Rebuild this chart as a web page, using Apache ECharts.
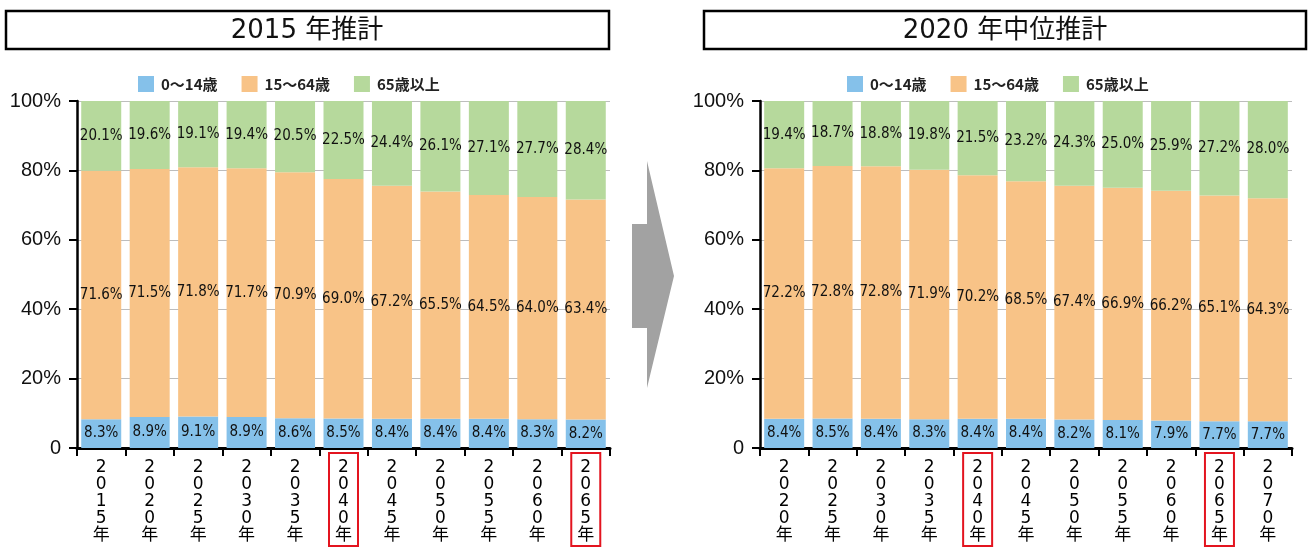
<!DOCTYPE html>
<html>
<head>
<meta charset="utf-8">
<script src="https://cdn.jsdelivr.net/npm/echarts@6/dist/echarts.min.js"></script>
<style>
html,body{margin:0;padding:0;background:#fff;}
#main{width:1308px;height:548px;}
</style>
</head>
<body>
<div id="main"></div>
<script>
// ---- data ----
const titleLeft = '2015 年推計';
const titleRight = '2020 年中位推計';
const seriesNames = ['0～14歳', '15～64歳', '65歳以上'];

const yearsLeft = ['2015', '2020', '2025', '2030', '2035', '2040', '2045', '2050', '2055', '2060', '2065'];
const childLeft = [8.3, 8.9, 9.1, 8.9, 8.6, 8.5, 8.4, 8.4, 8.4, 8.3, 8.2];
const workLeft = [71.6, 71.5, 71.8, 71.7, 70.9, 69.0, 67.2, 65.5, 64.5, 64.0, 63.4];
const elderLeft = [20.1, 19.6, 19.1, 19.4, 20.5, 22.5, 24.4, 26.1, 27.1, 27.7, 28.4];

const yearsRight = ['2020', '2025', '2030', '2035', '2040', '2045', '2050', '2055', '2060', '2065', '2070'];
const childRight = [8.4, 8.5, 8.4, 8.3, 8.4, 8.4, 8.2, 8.1, 7.9, 7.7, 7.7];
const workRight = [72.2, 72.8, 72.8, 71.9, 70.2, 68.5, 67.4, 66.9, 66.2, 65.1, 64.3];
const elderRight = [19.4, 18.7, 18.8, 19.8, 21.5, 23.2, 24.3, 25.0, 25.9, 27.2, 28.0];

const highlightYears = ['2040', '2065'];
const yTicks = [0, 20, 40, 60, 80, 100];

// ---- styles ----
const colors = ['#85c1ea', '#f8c387', '#b6d99c'];
const narrow = "'Liberation Sans Narrow', 'DejaVu Sans Condensed', 'Liberation Sans', sans-serif";
const jp = "'Noto Sans CJK JP', sans-serif";
const wide = "'DejaVu Sans', 'Noto Sans CJK JP', sans-serif";

function catData(years) {
  return years.map(y => {
    const item = { value: y };
    if (highlightYears.includes(y)) {
      item.textStyle = { borderColor: '#e3141f', borderWidth: 2 };
    }
    return item;
  });
}

function makeX(idx, years) {
  return {
    type: 'category', gridIndex: idx, data: catData(years),
    axisLine: { lineStyle: { color: '#000', width: 3 } },
    axisTick: { show: true, length: 8, lineStyle: { color: '#000', width: 2 } },
    axisLabel: {
      interval: 0, margin: 5, color: '#000', fontFamily: wide, fontSize: 17, lineHeight: 17,
      verticalAlign: 'top',
      padding: [6, 6, 2, 6],
      formatter: v => (v + '年').split('').join('\n')
    }
  };
}

function makeY(idx) {
  return {
    type: 'value', gridIndex: idx, min: yTicks[0], max: yTicks[yTicks.length - 1], interval: 20,
    axisLine: { show: true, lineStyle: { color: '#000', width: 2.5 } },
    axisTick: { show: true, length: 8, lineStyle: { color: '#000', width: 2 } },
    splitLine: { show: true, lineStyle: { color: '#bdbdbd', width: 1 } },
    axisLabel: {
      margin: 16, color: '#111', fontSize: 20, fontFamily: "'Liberation Sans', Arial, sans-serif",
      formatter: v => v === 0 ? '0' : v + '%'
    }
  };
}

function makeSeries(idx, arrs) {
  return arrs.map((arr, i) => ({
    type: 'bar', name: seriesNames[i], xAxisIndex: idx, yAxisIndex: idx, stack: 's' + idx,
    data: arr, barWidth: 40,
    itemStyle: { color: colors[i] },
    label: {
      show: true, position: 'inside', color: '#111', fontSize: 15, fontFamily: narrow,
      formatter: p => p.value.toFixed(1) + '%'
    }
  }));
}

function makeLegend(left) {
  return {
    left: left, top: 71, itemWidth: 16, itemHeight: 16, itemGap: 24,
    data: seriesNames.map((n, i) => ({ name: n, icon: 'rect', itemStyle: { color: colors[i] } })),
    textStyle: { fontSize: 15, fontWeight: 'bold', color: '#222', fontFamily: jp, padding: [0, 0, 0, 2] }
  };
}

const chart = echarts.init(document.getElementById('main'), null, { renderer: 'canvas' });
chart.setOption({
  animation: false,
  backgroundColor: '#fff',
  grid: [
    { left: 77, top: 101, width: 533, height: 347 },
    { left: 760, top: 101, width: 532, height: 347 }
  ],
  legend: [makeLegend(133), makeLegend(842)],
  xAxis: [makeX(0, yearsLeft), makeX(1, yearsRight)],
  yAxis: [makeY(0), makeY(1)],
  series: [
    ...makeSeries(0, [childLeft, workLeft, elderLeft]),
    ...makeSeries(1, [childRight, workRight, elderRight])
  ],
  graphic: [
    { type: 'rect', shape: { x: 6, y: 11, width: 603, height: 38 }, style: { fill: '#fff', stroke: '#000', lineWidth: 2.5 } },
    { type: 'text', x: 307, y: 31, style: { text: titleLeft, font: "26px 'DejaVu Sans', 'Noto Sans CJK JP', sans-serif", fill: '#111', textAlign: 'center', textVerticalAlign: 'middle' } },
    { type: 'rect', shape: { x: 704, y: 11, width: 602, height: 38 }, style: { fill: '#fff', stroke: '#000', lineWidth: 2.5 } },
    { type: 'text', x: 1005, y: 31, style: { text: titleRight, font: "26px 'DejaVu Sans', 'Noto Sans CJK JP', sans-serif", fill: '#111', textAlign: 'center', textVerticalAlign: 'middle' } },
    { type: 'polygon', shape: { points: [[632, 224], [647, 224], [647, 161], [674, 276], [647, 388], [647, 328], [632, 328]] }, style: { fill: '#a2a2a2' } }
  ]
});
</script>
</body>
</html>
